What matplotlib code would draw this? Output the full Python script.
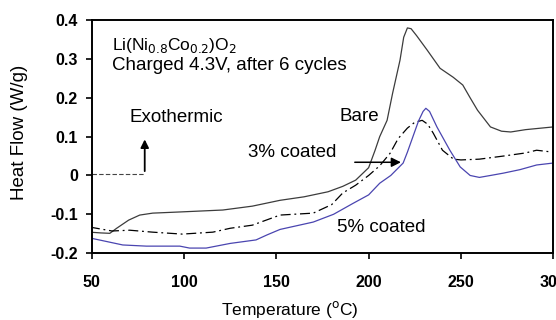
import numpy as np
import matplotlib.pyplot as plt

plt.rcParams['font.family'] = ['Liberation Sans', 'DejaVu Sans']

# DSC traces (temperature in C, heat flow in W/g)
bare_t = [49, 55, 59.8, 63.5, 70, 76, 83, 97.7, 121, 137, 152, 165, 178, 186, 193, 200, 203.5, 206, 210, 213,
          217, 219, 221, 223, 226, 231.7, 238.7, 245.8, 251, 255, 259, 266, 272, 277, 285, 300]
bare_h = [-0.146, -0.148, -0.149, -0.136, -0.115, -0.102, -0.097, -0.094, -0.089, -0.079, -0.064, -0.055,
          -0.042, -0.028, -0.012, 0.02, 0.065, 0.10, 0.142, 0.212, 0.297, 0.356, 0.38, 0.378, 0.36, 0.323,
          0.276, 0.253, 0.233, 0.20, 0.168, 0.125, 0.114, 0.112, 0.118, 0.125]

c3_t = [49, 55, 61, 70.6, 83, 99, 115.6, 125, 137, 152, 170, 180, 186, 193, 200, 206, 211.6, 216, 221, 225,
        229, 232, 235, 240, 246, 250, 260, 273, 285, 291, 300]
c3_h = [-0.133, -0.138, -0.143, -0.141, -0.146, -0.151, -0.146, -0.136, -0.128, -0.102, -0.097, -0.075, -0.045,
        -0.025, 0.0, 0.025, 0.057, 0.095, 0.122, 0.137, 0.142, 0.132, 0.109, 0.065, 0.042, 0.04, 0.042, 0.05,
        0.058, 0.065, 0.06]

c5_t = [49, 55, 66.8, 79.6, 97.7, 103, 112, 125, 139, 145, 152, 170, 181, 191.5, 200, 206, 212, 218.7, 221,
        224, 227, 229.5, 231, 233, 237, 244, 249.6, 255, 260, 266, 273, 282, 291, 300]
c5_h = [-0.161, -0.167, -0.179, -0.182, -0.182, -0.187, -0.187, -0.175, -0.166, -0.153, -0.139, -0.12, -0.1,
        -0.072, -0.05, -0.02, 0.0, 0.032, 0.06, 0.10, 0.14, 0.165, 0.173, 0.165, 0.125, 0.065, 0.022, 0.0,
        -0.005, 0.0, 0.006, 0.015, 0.027, 0.032]

xticks = [50, 100, 150, 200, 250, 300]
yticks = [-0.2, -0.1, 0, 0.1, 0.2, 0.3, 0.4]
ylabels = ['-0.2', '-0.1', '0', '0.1', '0.2', '0.3', '0.4']

fig = plt.figure(figsize=(5.56, 3.2), dpi=100)
ax = fig.add_axes([0.165, 0.209, 0.83, 0.728])

ax.plot(bare_t, bare_h, color='#3c3c3c', lw=0.9)
ax.plot(c3_t, c3_h, color='black', lw=0.9, linestyle=(0, (8, 3, 1.5, 3)))
ax.plot(c5_t, c5_h, color='#4a45b0', lw=0.9)

ax.set_xlim(50, 300)
ax.set_ylim(-0.2, 0.4)
ax.set_xticks(xticks)
ax.set_yticks(yticks)
ax.set_yticklabels(ylabels)
ax.tick_params(labelsize=11.5, width=1.2, length=4, direction='out')
for lab in ax.get_xticklabels() + ax.get_yticklabels():
    lab.set_fontweight('bold')
ax.tick_params(axis='x', pad=12)
ax.tick_params(axis='y', pad=6)
for s in ax.spines.values():
    s.set_linewidth(1.4)

fs = 13.5
ax.set_xlabel('Temperature ($^{\\mathrm{o}}$C)', fontsize=12.5)
ax.xaxis.set_label_coords(0.43, -0.197)
ax.set_ylabel('Heat Flow (W/g)', fontsize=13.5)
ax.yaxis.set_label_coords(-0.139, 0.52)

# exothermic marker
ax.plot([50, 78.7], [0.004, 0.004], color='#444444', lw=0.8, linestyle=(0, (4, 2)))
ax.annotate('', xy=(78.7, 0.1), xytext=(78.7, 0.004),
            arrowprops=dict(arrowstyle='-|>', color='black', lw=1.3, mutation_scale=12))
ax.text(96, 0.15, 'Exothermic', fontsize=fs, va='center', ha='center')

ax.text(60.8, 0.336, 'Li(Ni$_{0.8}$Co$_{0.2}$)O$_2$', fontsize=12.5, va='center')
ax.text(60.8, 0.284, 'Charged 4.3V, after 6 cycles', fontsize=fs, va='center')
ax.text(194.8, 0.153, 'Bare', fontsize=fs, va='center', ha='center')
ax.text(158.5, 0.06, '3% coated', fontsize=fs, va='center', ha='center')
ax.annotate('', xy=(219, 0.034), xytext=(191, 0.034),
            arrowprops=dict(arrowstyle='-|>', color='black', lw=1.1, mutation_scale=14))
ax.text(207, -0.133, '5% coated', fontsize=fs, va='center', ha='center')

fig.savefig('out.png', dpi=100)
